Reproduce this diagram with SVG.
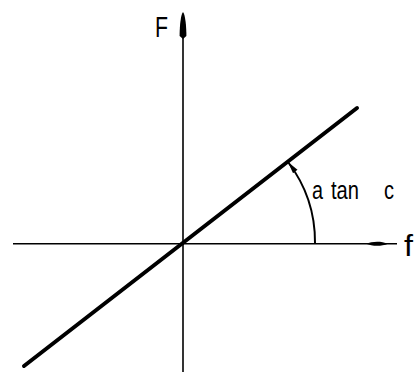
<svg xmlns="http://www.w3.org/2000/svg" width="418" height="372" viewBox="0 0 418 372">
<style>
.axis{stroke:#000;stroke-width:1.6;fill:none}
.graph{stroke:#000;stroke-width:4;fill:none;stroke-linecap:round}
.arc{stroke:#000;stroke-width:2;fill:none}
.lbl{font-family:"Liberation Sans",Arial,sans-serif;fill:#000}
</style>
<defs>
<marker id="ah" markerUnits="userSpaceOnUse" markerWidth="14" markerHeight="10" refX="12" refY="5" orient="auto">
<path d="M0,2.2 L12,5 L0,7.8 Z" fill="#000"/>
</marker>
</defs>
<rect width="418" height="372" fill="#fff"/>
<g id="connectors">
<line class="axis" x1="13" y1="243.8" x2="397" y2="243.8"/>
<path d="M366,243.8 C372,241.3 381,240.8 388,243.8 C381,246.8 372,246.3 366,243.8 Z" fill="#000"/>
<line class="axis" x1="183" y1="372" x2="183" y2="30"/>
<path d="M183,12 C185,14 186.4,25 186.4,36 L183,39 L179.6,36 C179.6,25 181,14 183,12 Z" fill="#000"/>
<path class="arc" d="M315,243 A132,132 0 0 0 288,162" marker-end="url(#ah)"/>
</g>
<g id="line">
<line class="graph" x1="24" y1="366" x2="357" y2="108"/>
</g>
<g id="label-F"><text class="lbl" x="155" y="37" font-size="30" textLength="13" lengthAdjust="spacingAndGlyphs">F</text></g>
<g id="label-f"><text class="lbl" x="404" y="256" font-size="30" textLength="9" lengthAdjust="spacingAndGlyphs">f</text></g>
<g id="label-angle"><text class="lbl" x="312" y="199" font-size="26"><tspan textLength="11" lengthAdjust="spacingAndGlyphs">a</tspan> <tspan x="331" textLength="28" lengthAdjust="spacingAndGlyphs">tan</tspan> <tspan x="384" textLength="10" lengthAdjust="spacingAndGlyphs">c</tspan></text></g>
</svg>
